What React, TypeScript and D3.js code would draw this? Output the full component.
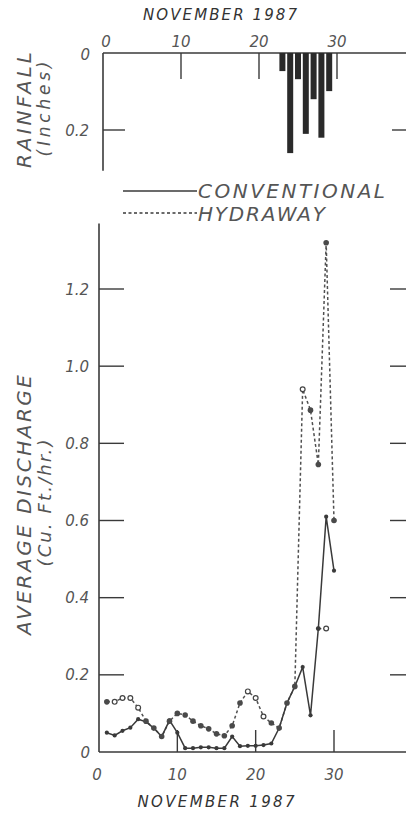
import * as d3 from 'd3';

// Rainfall, November 1987 (inches)
const rainDays = [23, 24, 25, 26, 27, 28, 29];
const rainValues = [0.047, 0.26, 0.068, 0.21, 0.12, 0.22, 0.099];

// Average discharge (cu. ft./hr.)
const convDays = [1, 2, 3, 4, 5, 6, 7, 8, 9, 10, 11, 12, 13, 14, 15, 16, 17, 18, 19, 20, 21, 22, 23, 24, 25, 26, 27, 28, 29, 30];
const convValues = [0.05, 0.043, 0.055, 0.063, 0.085, 0.078, 0.062, 0.04, 0.082, 0.05, 0.01, 0.01, 0.012, 0.012, 0.01, 0.01, 0.04, 0.015, 0.016, 0.016, 0.018, 0.022, 0.062, 0.127, 0.17, 0.22, 0.095, 0.32, 0.61, 0.47];

const hydDays = [1, 2, 3, 4, 5, 6, 7, 8, 9, 10, 11, 12, 13, 14, 15, 16, 17, 18, 19, 20, 21, 22, 23, 24, 25, 26, 27, 28, 29, 30];
const hydValues = [0.13, 0.13, 0.14, 0.14, 0.115, 0.08, 0.062, 0.04, 0.08, 0.1, 0.096, 0.08, 0.068, 0.06, 0.047, 0.042, 0.068, 0.127, 0.157, 0.14, 0.092, 0.075, 0.062, 0.127, 0.17, 0.94, 0.886, 0.745, 1.32, 0.6];
// f = filled dot, o = open circle
const hydMarks = ['f', 'o', 'o', 'o', 'o', 'f', 'f', 'f', 'f', 'f', 'f', 'f', 'f', 'f', 'f', 'f', 'f', 'f', 'o', 'o', 'o', 'f', 'f', 'f', 'f', 'o', 'f', 'f', 'f', 'f'];

const strayDays = [28, 29];
const strayValues = [0.32, 0.32];

const xTicks = [0, 10, 20, 30];
const rainTicks = [0, 0.2];
const dischargeTicks = [0, 0.2, 0.4, 0.6, 0.8, 1.0, 1.2];

const FONT = '"DejaVu Sans", sans-serif';
const INK = '#3a3a3a';
const TXT = '#555';

export default function App() {
  const width = 406;
  const height = 814;

  const xTop = d3.scaleLinear().domain([0, 30]).range([103, 337]);
  const yRain = d3.scaleLinear().domain([0, 0.2]).range([53, 130]);
  const x = d3.scaleLinear().domain([0, 30]).range([99, 334]);
  const y = d3.scaleLinear().domain([0, 1.2]).range([752, 289]);

  const conv = convDays.map((d, i) => ({ d, v: convValues[i] }));
  const hyd = hydDays.map((d, i) => ({ d, v: hydValues[i], m: hydMarks[i] }));
  const stray = strayDays.map((d, i) => ({ d, v: strayValues[i] }));

  const line = d3.line<{ d: number; v: number }>().x(p => x(p.d)).y(p => y(p.v));

  const labelStyle = { fontFamily: FONT, fontStyle: 'italic', fontWeight: 200, fill: TXT } as const;

  return (
    <div style={{ position: 'absolute', left: 0, top: 0 }}>
      <svg width={width} height={height} style={{ display: 'block', background: '#fff' }}>
        {/* ---------- Rainfall panel ---------- */}
        <text x={220} y={20} textAnchor="middle" fontSize={15} textLength={154} lengthAdjust="spacing" {...labelStyle} fill="#333">
          NOVEMBER 1987
        </text>
        {xTicks.map(t => (
          <text key={'tx' + t} x={xTop(t) + (t === 0 ? 3 : 0)} y={47} textAnchor="middle" fontSize={15} {...labelStyle}>
            {t}
          </text>
        ))}
        <line x1={xTop(0)} x2={width} y1={yRain(0)} y2={yRain(0)} stroke={INK} strokeWidth={1.6} />
        <line x1={xTop(0)} x2={xTop(0)} y1={yRain(0)} y2={yRain(0.306)} stroke={INK} strokeWidth={1.6} />
        {xTicks.filter(t => t > 0).map(t => (
          <line key={'tt' + t} x1={xTop(t)} x2={xTop(t)} y1={yRain(0)} y2={yRain(0) + 26} stroke={INK} strokeWidth={1.4} />
        ))}
        <line x1={xTop(0)} x2={xTop(0) + 22} y1={yRain(0.2)} y2={yRain(0.2)} stroke={INK} strokeWidth={1.4} />
        <line x1={392} x2={width} y1={yRain(0.2)} y2={yRain(0.2)} stroke={INK} strokeWidth={1.4} />
        {rainTicks.map(t => (
          <text key={'ry' + t} x={t === 0 ? 90 : 89} y={yRain(t) + (t === 0 ? 2 : 1)} textAnchor="end" dominantBaseline="middle" fontSize={15} {...labelStyle}>
            {t === 0 ? '0' : t.toFixed(1)}
          </text>
        ))}
        {rainDays.map((d, i) => (
          <rect key={'r' + d} x={xTop(d) - 3} y={yRain(0)} width={6} height={yRain(rainValues[i]) - yRain(0)} fill="#2a2a2a" />
        ))}
        <text transform="translate(31,110) rotate(-90)" textAnchor="middle" fontSize={20} textLength={116} lengthAdjust="spacing" {...labelStyle}>
          RAINFALL
        </text>
        <text transform="translate(50,109) rotate(-90)" textAnchor="middle" fontSize={17} textLength={95} lengthAdjust="spacing" {...labelStyle}>
          (Inches)
        </text>

        {/* ---------- Legend ---------- */}
        <line x1={123} x2={197} y1={191} y2={191} stroke={INK} strokeWidth={1.3} />
        <text x={198} y={198} fontSize={20} textLength={187} lengthAdjust="spacing" {...labelStyle}>
          CONVENTIONAL
        </text>
        <line x1={123} x2={197} y1={213} y2={213} stroke={INK} strokeWidth={1.3} strokeDasharray="3 2.5" />
        <text x={198} y={221} fontSize={20} textLength={127} lengthAdjust="spacing" {...labelStyle}>
          HYDRAWAY
        </text>

        {/* ---------- Discharge panel ---------- */}
        <line x1={x(0)} x2={x(0)} y1={y(1.37)} y2={y(0)} stroke={INK} strokeWidth={1.6} />
        <line x1={x(0)} x2={width} y1={y(0)} y2={y(0)} stroke={INK} strokeWidth={1.6} />
        {dischargeTicks.filter(t => t > 0).map(t => (
          <g key={'dt' + t}>
            <line x1={x(0)} x2={x(0) + 25} y1={y(t)} y2={y(t)} stroke={INK} strokeWidth={1.4} />
            <line x1={390} x2={width} y1={y(t)} y2={y(t)} stroke={INK} strokeWidth={1.4} />
          </g>
        ))}
        {dischargeTicks.map(t => (
          <text key={'dl' + t} x={t === 0 ? 90 : 89} y={y(t) + 1} textAnchor="end" dominantBaseline="middle" fontSize={15} {...labelStyle}>
            {t === 0 ? '0' : t.toFixed(1)}
          </text>
        ))}
        {xTicks.filter(t => t > 0).map(t => (
          <line key={'bx' + t} x1={x(t)} x2={x(t)} y1={y(0)} y2={y(0) - 22} stroke={INK} strokeWidth={1.4} />
        ))}
        {xTicks.map(t => (
          <text key={'bl' + t} x={x(t) - (t === 0 ? 2 : 0)} y={780} textAnchor="middle" fontSize={15} {...labelStyle}>
            {t}
          </text>
        ))}
        <text x={216} y={807} textAnchor="middle" fontSize={15} textLength={157} lengthAdjust="spacing" {...labelStyle} fill="#333">
          NOVEMBER 1987
        </text>
        <text transform="translate(31,505) rotate(-90)" textAnchor="middle" fontSize={20} textLength={260} lengthAdjust="spacing" {...labelStyle}>
          AVERAGE DISCHARGE
        </text>
        <text transform="translate(51,503) rotate(-90)" textAnchor="middle" fontSize={18} textLength={127} lengthAdjust="spacing" {...labelStyle}>
          (Cu. Ft./hr.)
        </text>

        {/* series */}
        <path d={line(hyd) ?? ''} fill="none" stroke="#505050" strokeWidth={1.5} strokeDasharray="3 2.5" />
        <path d={line(conv) ?? ''} fill="none" stroke={INK} strokeWidth={1.5} />
        <path d={line(stray) ?? ''} fill="none" stroke="#505050" strokeWidth={1.3} strokeDasharray="3 2" />

        {conv.map(p => (
          <circle key={'c' + p.d} cx={x(p.d)} cy={y(p.v)} r={2.1} fill={INK} />
        ))}
        {hyd.map(p =>
          p.m === 'f' ? (
            <circle key={'h' + p.d} cx={x(p.d)} cy={y(p.v)} r={2.8} fill="#4a4a4a" />
          ) : (
            <circle key={'h' + p.d} cx={x(p.d)} cy={y(p.v)} r={2.4} fill="#fff" stroke="#444" strokeWidth={1.2} />
          )
        )}
        <circle cx={x(stray[1].d)} cy={y(stray[1].v)} r={2.4} fill="#fff" stroke="#444" strokeWidth={1.2} />
        <circle cx={x(stray[0].d)} cy={y(stray[0].v)} r={2.4} fill={INK} />
      </svg>
    </div>
  );
}
